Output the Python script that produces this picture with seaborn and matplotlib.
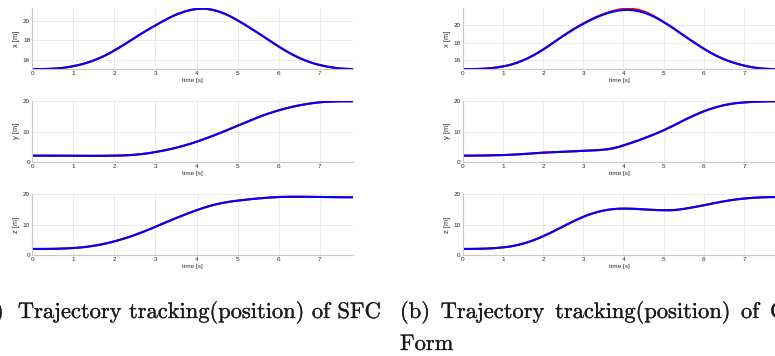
import numpy as np
import pandas as pd
import matplotlib
matplotlib.use("Agg")
import matplotlib.pyplot as plt
import matplotlib.patheffects as pe
import seaborn as sns

# ---------------- data ----------------
time_s = [0.0, 0.125, 0.25, 0.375, 0.5, 0.625, 0.75, 0.875,
          1.0, 1.125, 1.25, 1.375, 1.5, 1.625, 1.75, 1.875,
          2.0, 2.125, 2.25, 2.375, 2.5, 2.625, 2.75, 2.875,
          3.0, 3.125, 3.25, 3.375, 3.5, 3.625, 3.75, 3.875,
          4.0, 4.125, 4.25, 4.375, 4.5, 4.625, 4.75, 4.875,
          5.0, 5.125, 5.25, 5.375, 5.5, 5.625, 5.75, 5.875,
          6.0, 6.125, 6.25, 6.375, 6.5, 6.625, 6.75, 6.875,
          7.0, 7.125, 7.25, 7.375, 7.5, 7.625, 7.75, 7.8]

# (a) SFC : blue = actual, red = reference
sfc_x = [15.00, 15.00, 15.01, 15.02, 15.04, 15.08, 15.13, 15.21,
         15.31, 15.42, 15.56, 15.72, 15.91, 16.13, 16.37, 16.64,
         16.95, 17.26, 17.59, 17.93, 18.27, 18.61, 18.94, 19.26,
         19.55, 19.86, 20.14, 20.42, 20.66, 20.86, 21.04, 21.17,
         21.26, 21.30, 21.27, 21.18, 21.05, 20.87, 20.65, 20.38,
         20.08, 19.77, 19.44, 19.10, 18.76, 18.41, 18.06, 17.71,
         17.36, 17.03, 16.72, 16.43, 16.17, 15.94, 15.74, 15.57,
         15.43, 15.31, 15.21, 15.13, 15.07, 15.03, 15.01, 15.00]
sfc_x_ref = [15.00, 15.00, 15.01, 15.02, 15.04, 15.08, 15.13, 15.21,
             15.31, 15.42, 15.56, 15.72, 15.91, 16.13, 16.37, 16.64,
             16.95, 17.26, 17.59, 17.93, 18.27, 18.61, 18.94, 19.26,
             19.56, 19.87, 20.16, 20.44, 20.69, 20.89, 21.07, 21.2,
             21.29, 21.33, 21.30, 21.21, 21.07, 20.89, 20.66, 20.39,
             20.08, 19.77, 19.44, 19.10, 18.76, 18.41, 18.06, 17.71,
             17.36, 17.03, 16.72, 16.43, 16.17, 15.94, 15.74, 15.57,
             15.43, 15.31, 15.21, 15.13, 15.07, 15.03, 15.01, 15.00]
sfc_y = [2.00, 2.00, 2.00, 2.00, 1.99, 1.99, 1.98, 1.98,
         1.97, 1.96, 1.96, 1.95, 1.95, 1.95, 1.96, 1.98,
         2.00, 2.04, 2.10, 2.19, 2.31, 2.47, 2.67, 2.91,
         3.20, 3.50, 3.84, 4.21, 4.61, 5.06, 5.54, 6.05,
         6.60, 7.20, 7.82, 8.46, 9.10, 9.78, 10.48, 11.19,
         11.90, 12.60, 13.30, 14.00, 14.70, 15.33, 15.93, 16.49,
         17.00, 17.47, 17.90, 18.30, 18.65, 18.96, 19.23, 19.47,
         19.67, 19.80, 19.90, 19.96, 19.99, 20.00, 20.00, 20.00]
sfc_y_ref = list(sfc_y)
sfc_z = [2.00, 2.00, 2.00, 2.01, 2.03, 2.07, 2.13, 2.20,
         2.30, 2.42, 2.58, 2.79, 3.05, 3.34, 3.68, 4.07,
         4.50, 4.97, 5.48, 6.03, 6.62, 7.24, 7.90, 8.59,
         9.30, 10.02, 10.74, 11.45, 12.15, 12.83, 13.49, 14.13,
         14.75, 15.33, 15.87, 16.35, 16.77, 17.13, 17.44, 17.70,
         17.90, 18.10, 18.29, 18.47, 18.63, 18.77, 18.90, 19.01,
         19.10, 19.15, 19.18, 19.19, 19.19, 19.18, 19.16, 19.14,
         19.12, 19.10, 19.08, 19.06, 19.04, 19.03, 19.02, 19.02]
sfc_z_ref = list(sfc_z)

# (b) Closed-Form : blue = actual, red = reference
cf_x = [15.00, 15.00, 15.01, 15.02, 15.04, 15.08, 15.13, 15.21,
        15.30, 15.42, 15.57, 15.76, 15.99, 16.24, 16.53, 16.86,
        17.21, 17.58, 17.97, 18.36, 18.74, 19.11, 19.46, 19.79,
        20.10, 20.40, 20.68, 20.93, 21.15, 21.34, 21.49, 21.60,
        21.67, 21.68, 21.63, 21.53, 21.38, 21.18, 20.93, 20.63,
        20.30, 19.95, 19.58, 19.19, 18.80, 18.41, 18.03, 17.66,
        17.30, 16.96, 16.65, 16.37, 16.12, 15.90, 15.71, 15.55,
        15.40, 15.28, 15.18, 15.10, 15.05, 15.02, 15.00, 15.00]
cf_x_ref = [15.00, 15.00, 15.01, 15.02, 15.04, 15.08, 15.13, 15.21,
            15.30, 15.42, 15.57, 15.76, 15.99, 16.24, 16.53, 16.86,
            17.21, 17.58, 17.97, 18.37, 18.76, 19.14, 19.50, 19.84,
            20.16, 20.46, 20.74, 20.99, 21.20, 21.40, 21.57, 21.71,
            21.80, 21.82, 21.78, 21.68, 21.52, 21.29, 21.00, 20.67,
            20.32, 19.96, 19.58, 19.19, 18.80, 18.41, 18.03, 17.66,
            17.30, 16.96, 16.65, 16.37, 16.12, 15.90, 15.71, 15.55,
            15.40, 15.28, 15.18, 15.10, 15.05, 15.02, 15.00, 15.00]
cf_y = [2.00, 2.00, 2.01, 2.03, 2.05, 2.08, 2.12, 2.16,
        2.20, 2.26, 2.34, 2.43, 2.53, 2.64, 2.76, 2.88,
        3.00, 3.08, 3.15, 3.22, 3.29, 3.36, 3.43, 3.51,
        3.60, 3.68, 3.76, 3.84, 3.98, 4.20, 4.50, 4.92,
        5.45, 5.98, 6.52, 7.09, 7.70, 8.34, 9.00, 9.70,
        10.40, 11.20, 12.00, 12.85, 13.70, 14.50, 15.27, 16.00,
        16.70, 17.30, 17.83, 18.30, 18.70, 19.03, 19.30, 19.48,
        19.62, 19.74, 19.84, 19.91, 19.96, 19.99, 20.00, 20.00]
cf_y_ref = [2.00, 2.00, 2.01, 2.03, 2.05, 2.08, 2.12, 2.16,
            2.20, 2.26, 2.34, 2.43, 2.53, 2.64, 2.76, 2.88,
            3.00, 3.08, 3.15, 3.22, 3.29, 3.36, 3.43, 3.51,
            3.60, 3.68, 3.76, 3.83, 3.95, 4.12, 4.40, 4.80,
            5.32, 5.88, 6.45, 7.05, 7.68, 8.33, 9.00, 9.70,
            10.40, 11.20, 12.00, 12.85, 13.70, 14.50, 15.27, 16.00,
            16.70, 17.30, 17.83, 18.30, 18.70, 19.03, 19.30, 19.48,
            19.62, 19.74, 19.84, 19.91, 19.96, 19.99, 20.00, 20.00]
cf_z = [2.00, 2.00, 2.01, 2.04, 2.08, 2.14, 2.23, 2.35,
        2.50, 2.70, 2.97, 3.32, 3.74, 4.24, 4.81, 5.46,
        6.18, 6.94, 7.74, 8.57, 9.41, 10.25, 11.07, 11.85,
        12.58, 13.22, 13.78, 14.25, 14.63, 14.92, 15.12, 15.24,
        15.28, 15.27, 15.22, 15.14, 15.04, 14.94, 14.85, 14.78,
        14.75, 14.74, 14.80, 14.97, 15.20, 15.47, 15.76, 16.07,
        16.40, 16.73, 17.06, 17.38, 17.68, 17.96, 18.21, 18.42,
        18.60, 18.74, 18.86, 18.95, 19.02, 19.06, 19.08, 19.08]
cf_z_ref = list(cf_z)

x_ticks = [0, 1, 2, 3, 4, 5, 6, 7]
pos_ticks = [16, 18, 20]
yz_ticks = [0, 10, 20]
axis_labels = ["x [m]", "y [m]", "z [m]"]
time_label = "time [s]"
caption_a_label = "(a)"
caption_a_text = "Trajectory tracking(position) of SFC"
caption_b_words = ["(b)", "Trajectory", "tracking(position)", "of", "Closed-"]
caption_b_line2 = "Form"

# ---------------- figure ----------------
sns.set_theme(style="whitegrid")
plt.rcParams["font.family"] = ["Liberation Sans", "DejaVu Sans"]

W, H = 775, 356
fig = plt.figure(figsize=(W / 100, H / 100), dpi=100)
fig.patch.set_facecolor("white")


def px_axes(x0, y0, x1, y1):
    return fig.add_axes([x0 / W, 1 - y1 / H, (x1 - x0) / W, (y1 - y0) / H])


rows = [(8.3, 69.3), (101.0, 161.7), (194.0, 255.0)]
panels = [
    (32.3, 352.5, [(sfc_x_ref, sfc_x), (sfc_y_ref, sfc_y), (sfc_z_ref, sfc_z)],
     [(14.98, 21.34), (0, 20.1), (0, 20.1)]),
    (462.7, 776.2, [(cf_x_ref, cf_x), (cf_y_ref, cf_y), (cf_z_ref, cf_z)],
     [(14.98, 21.86), (0, 20.1), (0, 20.1)]),
]

for (x0, x1, series, ylims) in panels:
    for r, ((y0, y1), (ref, act), ylim, lab) in enumerate(zip(rows, series, ylims, axis_labels)):
        ax = px_axes(x0, y0, x1, y1)
        df = pd.DataFrame({"t": time_s, "ref": ref, "act": act})
        sns.lineplot(data=df, x="t", y="ref", ax=ax, color=(1, 0, 0), lw=1.5)
        sns.lineplot(data=df, x="t", y="act", ax=ax, color=(0, 0, 1), lw=1.5)
        ax.set_xlim(0, 7.8)
        ax.set_ylim(*ylim)
        ax.set_xticks(x_ticks)
        ax.set_yticks(pos_ticks if r == 0 else yz_ticks)
        ax.set_xlabel(time_label, fontsize=4.6, color="#2a2a2a", labelpad=1.5)
        ax.set_ylabel(lab, fontsize=5.4, color="#2a2a2a", labelpad=2)
        ax.tick_params(axis="both", labelsize=4.6, colors="#2a2a2a", length=1.5,
                       width=0.5, direction="in", pad=1.5)
        ax.grid(True, color="#e8e8e8", lw=0.6)
        for s in ["top", "right"]:
            ax.spines[s].set_visible(False)
        for s in ["left", "bottom"]:
            ax.spines[s].set_visible(True)
            ax.spines[s].set_color("#c8c8c8")
            ax.spines[s].set_linewidth(0.8)
        ax.set_facecolor("white")

# ---------------- captions (Computer Modern, like LaTeX) ----------------
renderer = fig.canvas.get_renderer()
cap_color = "#1a1a1a"
cap_font = "cmr10"
cap_fx = [pe.withStroke(linewidth=0.2, foreground=cap_color)]


def text_width(s, size):
    t = fig.text(0, 0, s, family=cap_font, fontsize=size)
    w = t.get_window_extent(renderer=renderer).width
    t.remove()
    return w


def cap(x, y, s, ha="left"):
    fig.text(x / W, y, s, family=cap_font, fontsize=cap_size, ha=ha,
             va="baseline", color=cap_color, path_effects=cap_fx)


# size so that the caption (a) text spans x = 18 .. 380 px
cap_size = 10 * (380 - 18) / text_width(caption_a_text, 10)
base1 = 1 - 318 / H
base2 = 1 - 350 / H

cap(3.5, base1, caption_a_label, ha="right")
cap(380, base1, caption_a_text, ha="right")

# caption (b): justified line, "(b)" starts at 400 px, "C" of last word at 770 px
widths = [text_width(w, cap_size) for w in caption_b_words]
start, last_start = 400.0, 770.0
gap = (last_start - start - sum(widths[:-1])) / (len(caption_b_words) - 1)
xpos = start
for w, wd in zip(caption_b_words, widths):
    cap(xpos, base1, w)
    xpos += wd + gap
cap(start, base2, caption_b_line2)

fig.savefig("out.png", dpi=100)
